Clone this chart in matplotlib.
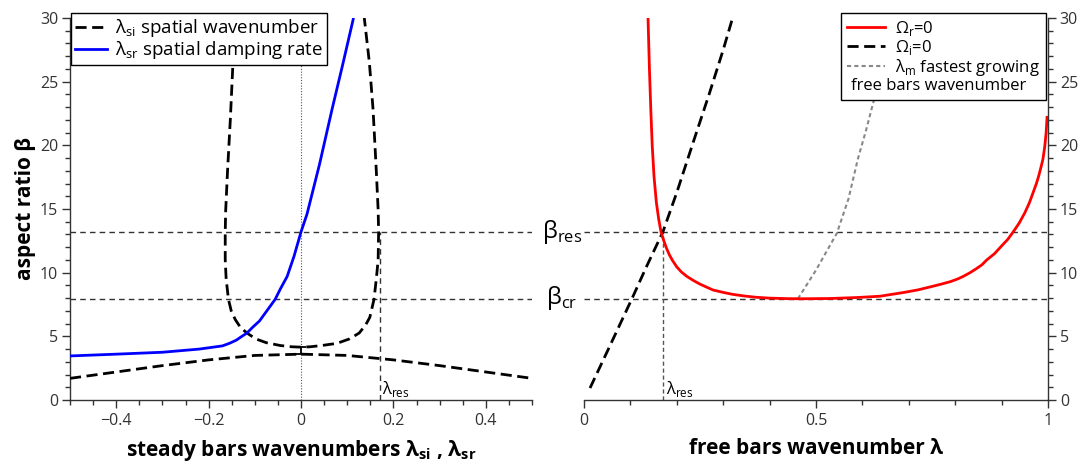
import matplotlib
matplotlib.use("Agg")
import matplotlib.pyplot as plt
from matplotlib.lines import Line2D
from matplotlib.ticker import MultipleLocator, FuncFormatter

plt.rcParams['font.family'] = ['Open Sans', 'DejaVu Sans']
plt.rcParams['mathtext.fontset'] = 'custom'
plt.rcParams['mathtext.rm'] = 'Open Sans'
plt.rcParams['mathtext.bf'] = 'Open Sans:bold'
plt.rcParams['axes.unicode_minus'] = True

# ---- characteristic values ----
beta_res = 13.2
beta_cr = 7.95
lam_res = 0.17

# ---- steady bars: lambda_si (closed branch), traversed left-top -> bottom -> right-top ----
si_loop_lam = [-0.143, -0.147, -0.153, -0.159, -0.163, -0.164, -0.164, -0.162, -0.157,
               -0.151, -0.142, -0.131, -0.117, -0.098, -0.075, -0.045, -0.02, 0.0,
               0.02, 0.045, 0.078, 0.105, 0.126, 0.14, 0.149, 0.158, 0.163, 0.167,
               0.168, 0.167, 0.163, 0.156, 0.148, 0.137]
si_loop_beta = [30.0, 26.7, 22.0, 18.0, 14.9, 13.2, 11.0, 9.5, 7.9,
                7.0, 6.3, 5.7, 5.26, 4.8, 4.5, 4.28, 4.18, 4.15,
                4.18, 4.28, 4.45, 4.8, 5.26, 5.9, 6.5, 7.9, 9.5, 11.0,
                13.2, 14.9, 18.0, 22.8, 26.5, 30.0]

# ---- steady bars: lambda_si (lower branch) ----
si_low_lam = [-0.5, -0.4, -0.3, -0.2, -0.1, 0.0, 0.1, 0.2, 0.3, 0.4, 0.5]
si_low_beta = [1.7, 2.2, 2.7, 3.15, 3.5, 3.6, 3.5, 3.15, 2.7, 2.2, 1.7]

# ---- steady bars: lambda_sr spatial damping rate ----
sr_lam = [-0.5, -0.4, -0.3, -0.22, -0.17, -0.155, -0.14, -0.13, -0.117, -0.105,
          -0.09, -0.075, -0.056, -0.045, -0.03, -0.015, 0.0, 0.013, 0.04, 0.067,
          0.09, 0.113]
sr_beta = [3.46, 3.6, 3.75, 4.0, 4.25, 4.45, 4.7, 4.95, 5.26, 5.7,
           6.2, 6.95, 7.9, 8.7, 9.7, 11.3, 13.2, 14.6, 18.5, 22.8,
           26.3, 29.9]

# ---- free bars: Omega_r = 0 ----
or_lam = [0.138, 0.141, 0.144, 0.147, 0.151, 0.156, 0.161, 0.166, 0.172, 0.178,
          0.184, 0.19, 0.2, 0.21, 0.222, 0.236, 0.25, 0.265, 0.278, 0.3,
          0.32, 0.345, 0.37, 0.4, 0.44, 0.47, 0.53, 0.59, 0.638, 0.69,
          0.72, 0.746, 0.77, 0.79, 0.805, 0.817, 0.832, 0.845, 0.857, 0.868,
          0.885, 0.9, 0.913, 0.925, 0.938, 0.95, 0.96, 0.968, 0.975, 0.98,
          0.985, 0.989, 0.993, 0.996, 0.998]
or_beta = [30.0, 26.0, 22.8, 20.0, 17.5, 15.5, 14.2, 13.2, 12.5, 11.9,
           11.4, 11.0, 10.45, 10.05, 9.7, 9.38, 9.1, 8.85, 8.64, 8.45,
           8.3, 8.17, 8.07, 8.0, 7.96, 7.95, 7.97, 8.05, 8.15, 8.45,
           8.65, 8.88, 9.1, 9.3, 9.5, 9.7, 10.0, 10.3, 10.6, 11.0,
           11.5, 12.1, 12.6, 13.2, 13.9, 14.7, 15.5, 16.3, 17.0, 17.6,
           18.3, 18.9, 19.9, 21.0, 22.2]

# ---- free bars: Omega_i = 0 ----
oi_lam = [0.013, 0.05, 0.103, 0.135, 0.17, 0.2, 0.235, 0.27, 0.3, 0.319]
oi_beta = [0.94, 3.8, 7.93, 10.5, 13.2, 16.3, 20.2, 24.05, 27.5, 29.85]

# ---- free bars: fastest growing wavenumber ----
lm_lam = [0.461, 0.5, 0.545, 0.57, 0.59, 0.608, 0.623, 0.64, 0.66, 0.675]
lm_beta = [7.95, 10.2, 13.1, 15.8, 18.9, 21.2, 23.3, 25.5, 28.0, 30.0]

dark = '#333333'
fig = plt.figure(figsize=(10.89, 4.71), dpi=100)
axL = fig.add_axes([70 / 1089, 71 / 471, 462 / 1089, 382 / 471])
axR = fig.add_axes([584 / 1089, 71 / 471, 464 / 1089, 382 / 471])


def style_axis(ax, side):
    for s in ['top', 'left', 'right']:
        ax.spines[s].set_visible(False)
    ax.spines[side].set_visible(True)
    for s in ['bottom', side]:
        ax.spines[s].set_color(dark)
        ax.spines[s].set_linewidth(1.0)
    ax.tick_params(which='both', direction='out', colors=dark, labelsize=11.5, width=1.0)
    ax.tick_params(which='major', length=6)
    ax.tick_params(which='minor', length=3.5)
    ax.tick_params(axis='y', which='major', pad=2.5)
    ax.set_ylim(0, 30)
    ax.yaxis.set_major_locator(MultipleLocator(5))
    ax.yaxis.set_minor_locator(MultipleLocator(1))
    if side == 'right':
        ax.yaxis.tick_right()


fmt = FuncFormatter(lambda v, p: ('%g' % round(v, 3)).replace('-', '\u2212'))
dash_long = (0, (4, 2))
dash_thin = (0, (4, 3))

# ---------------- left panel ----------------
style_axis(axL, 'left')
axL.set_xlim(-0.5, 0.5)
axL.xaxis.set_major_locator(MultipleLocator(0.2))
axL.xaxis.set_minor_locator(MultipleLocator(0.05))
axL.xaxis.set_major_formatter(fmt)

axL.axvline(0, color='#555555', lw=0.8, ls=(0, (1, 1.5)), zorder=1)
axL.axhline(beta_res, color=dark, lw=1.0, ls=dash_thin, zorder=1)
axL.axhline(beta_cr, color=dark, lw=1.0, ls=dash_thin, zorder=1)
axL.plot([lam_res, lam_res], [0, beta_res], color=dark, lw=1.0, ls=dash_thin, zorder=1)

axL.plot(si_loop_lam, si_loop_beta, color='black', lw=2.0, ls=dash_long, zorder=3)
axL.plot(si_low_lam, si_low_beta, color='black', lw=2.0, ls=dash_long, zorder=3)
axL.plot(sr_lam, sr_beta, color='blue', lw=2.0, zorder=4)
axL.errorbar([0.0], [(si_low_beta[5] + si_loop_beta[17]) / 2],
             yerr=[[(si_loop_beta[17] - si_low_beta[5]) / 2]],
             color='black', lw=1.3, capsize=3.5, capthick=1.3, zorder=5)

axL.text(lam_res + 0.006, 0.5, '\u03bb$_\\mathrm{res}$', fontsize=12, color='black')

legL = axL.legend(handles=[Line2D([], [], color='black', lw=2.0, ls=dash_long),
                           Line2D([], [], color='blue', lw=2.0)],
                  labels=['\u03bb$_\\mathrm{si}$ spatial wavenumber',
                          '\u03bb$_\\mathrm{sr}$ spatial damping rate'],
                  loc='upper left', bbox_to_anchor=(0.003, 1.012), fontsize=13.5,
                  frameon=True, fancybox=False, edgecolor='black', framealpha=1,
                  handlelength=1.7, handletextpad=0.45, borderpad=0.2, labelspacing=0.0,
                  borderaxespad=0.0)
legL.get_frame().set_linewidth(1.0)

axL.set_xlabel('steady bars wavenumbers \u03bb$_\\mathbf{si}$ , \u03bb$_\\mathbf{sr}$',
               fontsize=15, fontweight='bold', labelpad=6)
axL.set_ylabel('aspect ratio \u03b2', fontsize=15, fontweight='bold', labelpad=3)

# ---------------- right panel ----------------
style_axis(axR, 'right')
axR.set_xlim(0, 1)
axR.xaxis.set_major_locator(MultipleLocator(0.5))
axR.xaxis.set_minor_locator(MultipleLocator(0.1))
axR.xaxis.set_major_formatter(fmt)

axR.axhline(beta_res, color=dark, lw=1.0, ls=dash_thin, zorder=1)
axR.axhline(beta_cr, color=dark, lw=1.0, ls=dash_thin, zorder=1)
axR.plot([lam_res, lam_res], [0, beta_res], color='#555555', lw=1.0, ls=(0, (3, 2)), zorder=1)

axR.plot(lm_lam, lm_beta, color='#888888', lw=1.5, ls=(0, (2, 1.5)), zorder=2)
axR.plot(oi_lam, oi_beta, color='black', lw=2.0, ls=dash_long, zorder=3)
axR.plot(or_lam, or_beta, color='red', lw=2.0, zorder=4)

axR.text(lam_res + 0.007, 0.5, '\u03bb$_\\mathrm{res}$', fontsize=12, color='black')

legR = axR.legend(handles=[Line2D([], [], color='red', lw=2.0),
                           Line2D([], [], color='black', lw=2.0, ls=dash_long),
                           Line2D([], [], color='#888888', lw=1.5, ls=(0, (2, 1.5))),
                           Line2D([], [], alpha=0)],
                  labels=['\u03a9$_\\mathrm{r}$=0', '\u03a9$_\\mathrm{i}$=0',
                          '\u03bb$_\\mathrm{m}$ fastest growing', 'free bars'],
                  loc='upper right', bbox_to_anchor=(0.995, 1.012), fontsize=12,
                  frameon=True, fancybox=False, edgecolor='black', framealpha=1,
                  handlelength=2.3, handletextpad=0.6, borderpad=0.35, labelspacing=0.0,
                  borderaxespad=0.0)
legR.get_frame().set_linewidth(1.0)
# the fourth row only reserves room; its caption starts under the handles
legR.get_texts()[3].set_alpha(0)
fig.canvas.draw()
rend = fig.canvas.get_renderer()
row_box = legR.get_texts()[3].get_window_extent(rend)
frame_box = legR.get_frame().get_window_extent(rend)
fig.text((frame_box.x0 + 10) / fig.bbox.width, (row_box.y0 + row_box.y1) / 2 / fig.bbox.height,
         'free bars wavenumber', fontsize=12, color='black', ha='left', va='center',
         zorder=10)

axR.set_xlabel('free bars wavenumber \u03bb', fontsize=15, fontweight='bold', labelpad=6)

# labels of the characteristic aspect ratios, between the panels
fig.text(562 / 1089, (471 - 232) / 471, '\u03b2$_\\mathrm{res}$', fontsize=17,
         ha='center', va='center')
fig.text(562 / 1089, (471 - 298) / 471, '\u03b2$_\\mathrm{cr}$', fontsize=17,
         ha='center', va='center')

fig.savefig('out.png', dpi=100)
